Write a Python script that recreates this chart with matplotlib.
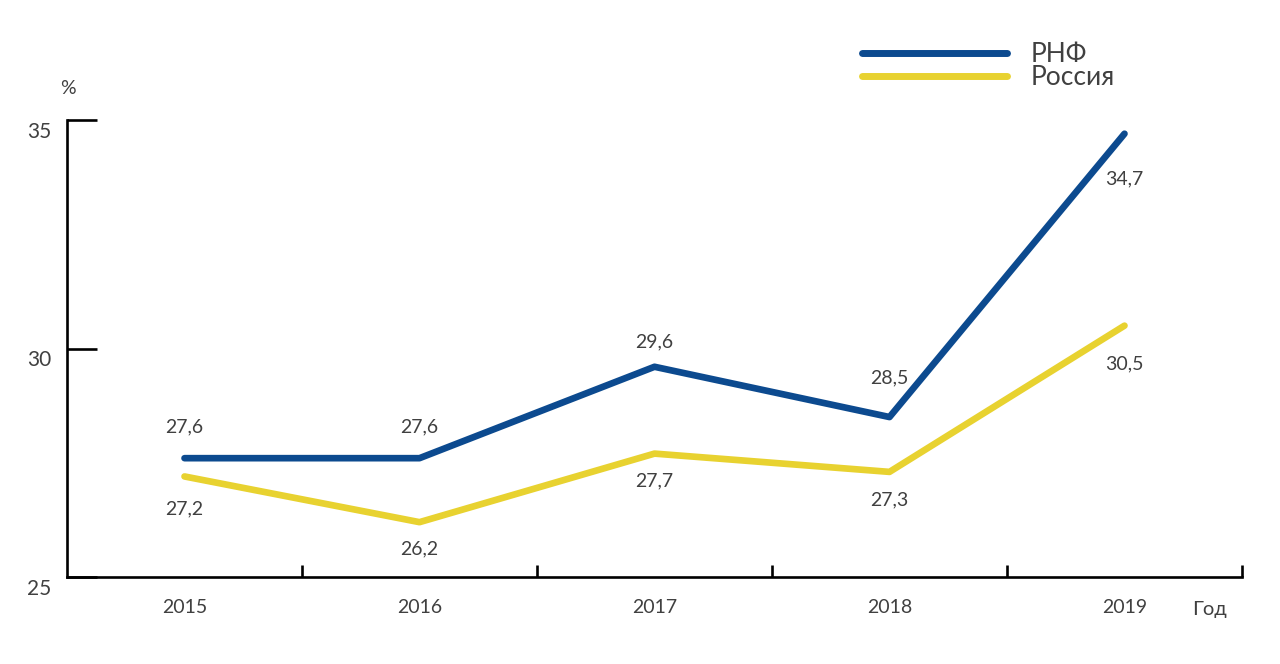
import matplotlib.pyplot as plt
from matplotlib.transforms import ScaledTranslation

plt.rcParams["font.family"] = ["Lato", "DejaVu Sans"]

YEARS = ["2015", "2016", "2017", "2018", "2019"]
RNF = [27.6, 27.6, 29.6, 28.5, 34.7]
RUSSIA = [27.2, 26.2, 27.7, 27.3, 30.5]

BLUE = "#0c4a8f"
YELLOW = "#e8d230"
TEXT = "#404040"

# смещения подписей значений (в пикселях)
RNF_OFFS = [31, 31, 25, 39, -45]
RUS_OFFS = [-32, -27, -27, -28, -38]

fig = plt.figure(figsize=(12.8, 6.64), dpi=100)
ax = fig.add_axes([67 / 1280, 87 / 664, 1175 / 1280, 457 / 664])

x = [i + 0.5 for i in range(len(YEARS))]
ax.plot(x, RNF, color=BLUE, lw=4.8, solid_capstyle="round", solid_joinstyle="round", label="РНФ")
ax.plot(x, RUSSIA, color=YELLOW, lw=4.8, solid_capstyle="round", solid_joinstyle="round", label="Россия")

for xi, v, dy in zip(x, RNF, RNF_OFFS):
    ax.annotate(f"{v:.1f}".replace(".", ","), (xi, v), xytext=(0, dy * 0.72), textcoords="offset points",
                ha="center", va="center", fontsize=14, color=TEXT)
for xi, v, dy in zip(x, RUSSIA, RUS_OFFS):
    ax.annotate(f"{v:.1f}".replace(".", ","), (xi, v), xytext=(0, dy * 0.72), textcoords="offset points",
                ha="center", va="center", fontsize=14, color=TEXT)

ax.set_xlim(0, 5)
ax.set_ylim(25, 35)
for s in ["top", "right"]:
    ax.spines[s].set_visible(False)
for s in ["left", "bottom"]:
    ax.spines[s].set_linewidth(1.9)
    ax.spines[s].set_color("black")

ax.set_yticks([25, 30, 35])
ax.set_yticklabels(["25", "30", "35"])
ax.tick_params(axis="y", direction="in", length=21.6, width=1.9, pad=11,
               labelsize=15, labelcolor=TEXT)
for lbl in ax.get_yticklabels():
    lbl.set_transform(lbl.get_transform() + ScaledTranslation(0, -0.1, fig.dpi_scale_trans))

ax.set_xticks([1, 2, 3, 4, 5])
ax.set_xticklabels([])
ax.tick_params(axis="x", which="major", direction="in", length=8.6, width=1.9)
ax.set_xticks(x, minor=True)
ax.set_xticklabels(YEARS, minor=True)
ax.tick_params(axis="x", which="minor", length=0, pad=16, labelsize=14, labelcolor=TEXT)

fig.text(68 / 1280, 1 - 88 / 664, "%", ha="center", va="center", fontsize=14, color=TEXT)
fig.text(1210 / 1280, 1 - 610 / 664, "Год", ha="center", va="center", fontsize=14.5, color=TEXT)

leg = ax.legend(loc="upper left", bbox_to_anchor=(838 / 1280, 1 - 18 / 664), bbox_transform=fig.transFigure,
                frameon=False, handlelength=5.5, handletextpad=0.9, labelspacing=-0.05,
                prop={"size": 19})
for t in leg.get_texts():
    t.set_color(TEXT)
for h in leg.legend_handles:
    h.set_linewidth(5)

fig.savefig("out.png", dpi=100)
